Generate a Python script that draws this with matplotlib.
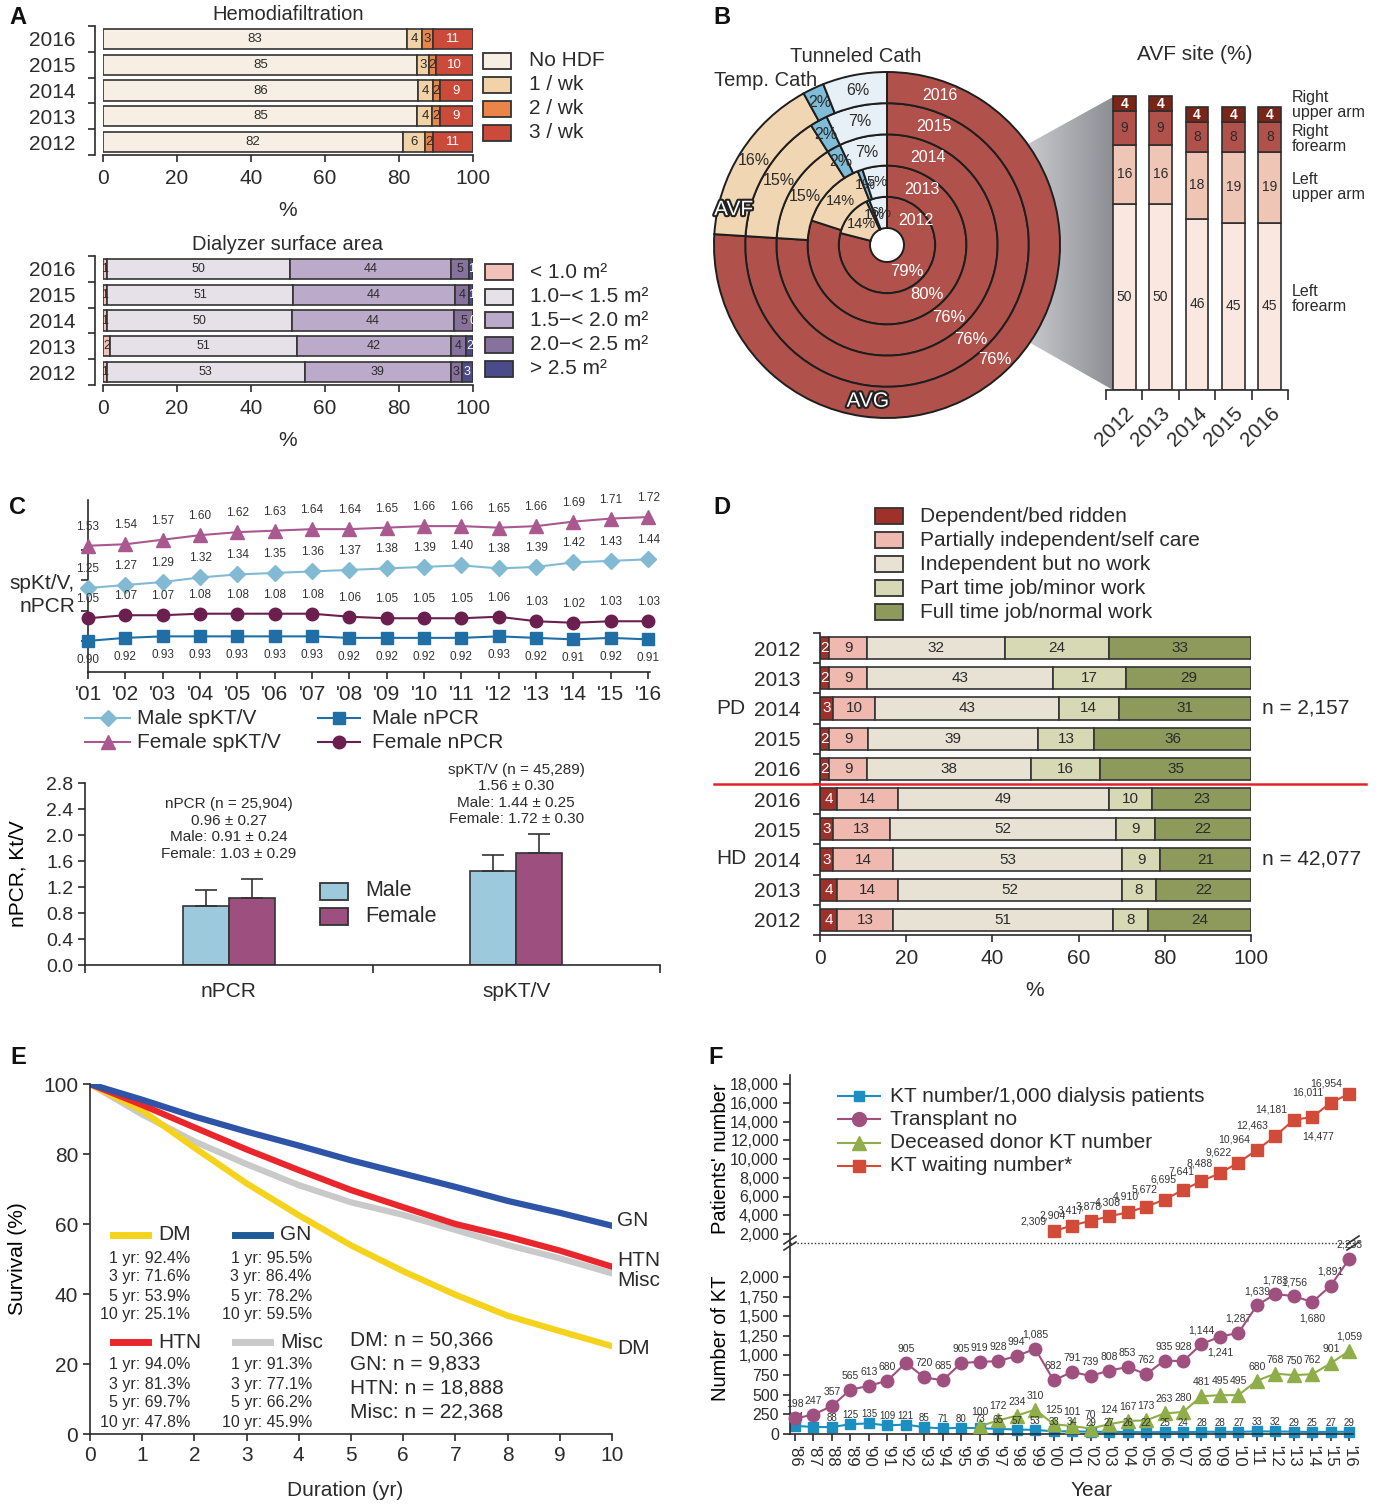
import numpy as np
import matplotlib
matplotlib.use('Agg')
import matplotlib.pyplot as plt
from matplotlib.patches import Rectangle, Polygon
from matplotlib.lines import Line2D
from matplotlib.colors import LinearSegmentedColormap
import matplotlib.patheffects as pe
import matplotlib.transforms as mtransforms

plt.rcParams['font.family'] = ['Liberation Sans', 'DejaVu Sans']
TXT = '#2b2b2b'
plt.rcParams.update({
    'text.color': TXT, 'axes.edgecolor': TXT, 'xtick.color': TXT, 'ytick.color': TXT,
    'axes.linewidth': 1.2, 'xtick.major.width': 1.2, 'ytick.major.width': 1.2,
    'xtick.minor.width': 1.2, 'ytick.minor.width': 1.2,
})

# ---------------- data ----------------
# A: hemodiafiltration frequency (%)
hdf_years = ['2016', '2015', '2014', '2013', '2012']
hdf_names = ['No HDF', '1 / wk', '2 / wk', '3 / wk']
hdf_none = [83, 85, 86, 85, 82]
hdf_once = [4, 3, 4, 4, 6]
hdf_twice = [3, 2, 2, 2, 2]
hdf_thrice = [11, 10, 9, 9, 11]

# A: dialyzer surface area (%)
dlz_years = ['2016', '2015', '2014', '2013', '2012']
dlz_names = ['< 1.0 m²', '1.0−< 1.5 m²', '1.5−< 2.0 m²', '2.0−< 2.5 m²', '> 2.5 m²']
dlz_lt10 = [1, 1, 1, 2, 1]
dlz_10_15 = [50, 51, 50, 51, 53]
dlz_15_20 = [44, 44, 44, 42, 39]
dlz_20_25 = [5, 4, 5, 4, 3]
dlz_gt25 = [1, 1, 0, 2, 3]

# B: vascular access type (%) by year, inner ring = 2012
access_years = ['2012', '2013', '2014', '2015', '2016']
avg_pct = [79, 80, 76, 76, 76]
avf_pct = [14, 14, 15, 15, 16]
temp_pct = [1, 1, 2, 2, 2]
tunnel_pct = [6, 5, 7, 7, 6]

# B: AVF site (%)
site_years = ['2012', '2013', '2014', '2015', '2016']
site_names = ['Left\nforearm', 'Left\nupper arm', 'Right\nforearm', 'Right\nupper arm']
site_lf = [50, 50, 46, 45, 45]
site_lu = [16, 16, 18, 19, 19]
site_rf = [9, 9, 8, 8, 8]
site_ru = [4, 4, 4, 4, 4]

# C: dialysis adequacy trends
c_years = list(range(2001, 2017))
c_ticklabels = ["'%02d" % (y % 100) for y in c_years]
ktv_female = [1.53, 1.54, 1.57, 1.60, 1.62, 1.63, 1.64, 1.64, 1.65, 1.66, 1.66, 1.65, 1.66, 1.69, 1.71, 1.72]
ktv_male = [1.25, 1.27, 1.29, 1.32, 1.34, 1.35, 1.36, 1.37, 1.38, 1.39, 1.40, 1.38, 1.39, 1.42, 1.43, 1.44]
npcr_female = [1.05, 1.07, 1.07, 1.08, 1.08, 1.08, 1.08, 1.06, 1.05, 1.05, 1.05, 1.06, 1.03, 1.02, 1.03, 1.03]
npcr_male = [0.90, 0.92, 0.93, 0.93, 0.93, 0.93, 0.93, 0.92, 0.92, 0.92, 0.92, 0.93, 0.92, 0.91, 0.92, 0.91]

bar_groups = ['nPCR', 'spKT/V']
bar_male = [0.91, 1.44]
bar_male_sd = [0.24, 0.25]
bar_female = [1.03, 1.72]
bar_female_sd = [0.29, 0.30]
bar_n = [25904, 45289]
bar_all = [0.96, 1.56]
bar_all_sd = [0.27, 0.30]

# D: functional status (%)
d_names = ['Dependent/bed ridden', 'Partially independent/self care', 'Independent but no work',
           'Part time job/minor work', 'Full time job/normal work']
d_rows = ['2012', '2013', '2014', '2015', '2016', '2016', '2015', '2014', '2013', '2012']
d_dep = [2, 2, 3, 2, 2, 4, 3, 3, 4, 4]
d_partial = [9, 9, 10, 9, 9, 14, 13, 14, 14, 13]
d_indep = [32, 43, 43, 39, 38, 49, 52, 53, 52, 51]
d_parttime = [24, 17, 14, 13, 16, 10, 9, 9, 8, 8]
d_fulltime = [33, 29, 31, 36, 35, 23, 22, 21, 22, 24]

# E: patient survival (%) by primary disease
e_years = [0, 1, 2, 3, 4, 5, 6, 7, 8, 9, 10]
surv_dm = [100, 92.4, 81.8, 71.6, 62.5, 53.9, 46.5, 39.8, 33.8, 29.4, 25.1]
surv_gn = [100, 95.5, 90.7, 86.4, 82.4, 78.2, 74.4, 70.6, 66.6, 63.2, 59.5]
surv_htn = [100, 94.0, 87.6, 81.3, 75.4, 69.7, 64.8, 60.0, 56.4, 52.4, 47.8]
surv_misc = [100, 91.3, 83.6, 77.1, 71.1, 66.2, 62.6, 58.3, 54.0, 50.2, 45.9]
e_counts = [('DM', 50366), ('GN', 9833), ('HTN', 18888), ('Misc', 22368)]

# F: kidney transplantation
f_years = list(range(1986, 2017))
kt_per_1000 = [104, 89, 88, 125, 135, 109, 121, 85, 71, 80, 73, 65, 57, 53, 33, 34, 29, 27, 26, 22,
               25, 24, 28, 28, 27, 33, 32, 29, 25, 27, 29]
transplant_no = [198, 247, 357, 565, 613, 680, 905, 720, 685, 905, 919, 928, 994, 1085, 682, 791, 739,
                 808, 853, 762, 935, 928, 1144, 1241, 1287, 1639, 1783, 1756, 1680, 1891, 2233]
deceased_years = list(range(1996, 2017))
deceased_no = [100, 172, 234, 310, 125, 101, 70, 124, 167, 173, 263, 280, 481, 495, 495, 680, 768,
               750, 762, 901, 1059]
waiting_years = list(range(2000, 2017))
waiting_no = [2309, 2904, 3417, 3878, 4308, 4910, 5672, 6695, 7641, 8488, 9622, 10964, 12463,
              14181, 14477, 16011, 16954]

# ---------------- figure helpers (pixel layout) ----------------
W, H = 1381, 1504
fig = plt.figure(figsize=(W / 100, H / 100), dpi=100)


def fx(x):
    return x / W


def fy(y):
    return 1 - y / H


def add_ax(x0, y0, x1, y1):
    return fig.add_axes([fx(x0), fy(y1), (x1 - x0) / W, (y1 - y0) / H])


def ftext(x, y, s, **kw):
    kw.setdefault('ha', 'center')
    kw.setdefault('va', 'center')
    return fig.text(fx(x), fy(y), s, **kw)


def fbox(x, y, w, h, color):
    fig.add_artist(Rectangle((fx(x), fy(y + h / 2)), w / W, h / H, transform=fig.transFigure,
                             facecolor=color, edgecolor='#333333', linewidth=1.3))


def fline(x0, x1, y, color, lw=1.5, marker=None, ms=8, ls='-'):
    fig.add_artist(Line2D([fx(x0), fx(x1)], [fy(y), fy(y)], color=color, lw=lw, ls=ls,
                          transform=fig.transFigure))
    if marker:
        fig.add_artist(Line2D([fx((x0 + x1) / 2)], [fy(y)], marker=marker, ms=ms, color=color,
                              ls='none', transform=fig.transFigure))


def panel_letter(x, y, s):
    ftext(x, y, s, fontsize=17, fontweight='bold', color='#111111')


def ylabel_at(ax, x_px, text, fs=15):
    """Place the vertical y label centred at a given figure x pixel."""
    ax.set_ylabel(text, fontsize=fs)
    pos = ax.get_position()
    # the label anchor is its (rotated) bottom edge, about half a line right of its centre
    ax.yaxis.set_label_coords((fx(x_px + 9) - pos.x0) / pos.width, 0.5)


def hbar_stack(ax, segs, colors, tcolors, height=0.78, fs=9.5):
    segs = np.array(segs, float)
    widths = segs / segs.sum(axis=0) * 100
    y = np.arange(segs.shape[1])
    left = np.zeros(segs.shape[1])
    for k in range(segs.shape[0]):
        ax.barh(y, widths[k], left=left, height=height, color=colors[k],
                edgecolor='#333333', linewidth=1.2)
        for i in range(len(y)):
            ax.text(left[i] + widths[k][i] / 2, y[i], f'{int(segs[k][i])}', ha='center',
                    va='center', fontsize=fs, color=tcolors[k])
        left = left + widths[k]


def style_hbar_axis(ax, labels, fs=15, offset=6):
    n = len(labels)
    ax.set_xlim(0, 100)
    ax.set_ylim(n - 0.5, -0.5)
    ax.set_yticks(range(n))
    ax.set_yticklabels(labels)
    ax.set_yticks(np.arange(-0.5, n, 1), minor=True)
    ax.tick_params(axis='y', which='major', length=0, pad=offset + 8, labelsize=fs)
    ax.tick_params(axis='y', which='minor', length=5)
    ax.set_xticks(range(0, 101, 20))
    ax.tick_params(axis='x', labelsize=fs, length=5, pad=5)
    ax.spines['left'].set_position(('outward', offset))
    for s in ('top', 'right'):
        ax.spines[s].set_visible(False)
    ax.patch.set_visible(False)


# ---------------- panel A ----------------
panel_letter(18, 18, 'A')
hdf_colors = ['#f8efe4', '#f2d3a8', '#e98548', '#cc4a3a']
ax = add_ax(103, 26, 473, 155)
hbar_stack(ax, [hdf_none, hdf_once, hdf_twice, hdf_thrice], hdf_colors, [TXT, TXT, TXT, 'white'])
style_hbar_axis(ax, hdf_years)
ftext(288, 15, 'Hemodiafiltration', fontsize=14.5)
ftext(288, 211, '%', fontsize=15)
for i, (name, col) in enumerate(zip(hdf_names, hdf_colors)):
    fbox(483, 61 + 24 * i, 28, 16, col)
    ftext(529, 61 + 24 * i, name, ha='left', fontsize=15)

dlz_colors = ['#f1c0b8', '#e6e1e9', '#bcaacb', '#86729d', '#4b4a8a']
ax = add_ax(103, 256, 473, 385)
hbar_stack(ax, [dlz_lt10, dlz_10_15, dlz_15_20, dlz_20_25, dlz_gt25], dlz_colors,
           [TXT, TXT, TXT, TXT, 'white'], fs=9)
style_hbar_axis(ax, dlz_years)
ftext(288, 244, 'Dialyzer surface area', fontsize=14.5)
ftext(288, 441, '%', fontsize=15)
for i, (name, col) in enumerate(zip(dlz_names, dlz_colors)):
    yy = [272, 297, 320, 345, 369][i]
    fbox(485, yy, 28, 16, col)
    ftext(530, yy, name, ha='left', fontsize=15)

# ---------------- panel B ----------------
panel_letter(722, 18, 'B')
# funnel linking the rings to the site bars
axg = add_ax(990, 85, 1115, 400)
axg.set_xlim(990, 1115)
axg.set_ylim(400, 85)
axg.axis('off')
funnel_cmap = LinearSegmentedColormap.from_list('funnel', ['#e2e3e6', '#8a8c91'])
im = axg.imshow(np.linspace(0, 1, 256).reshape(1, -1), extent=(990, 1115, 400, 85),
                cmap=funnel_cmap, aspect='auto')
funnel = Polygon([(990, 165), (1113, 97), (1113, 390), (990, 320)], closed=True,
                 facecolor='none', edgecolor='none', transform=axg.transData)
axg.add_patch(funnel)
im.set_clip_path(funnel)

cx, cy = 887, 245
axp = add_ax(cx - 176, cy - 176, cx + 176, cy + 176)
axp.patch.set_visible(False)
hole, ring_w = 17, 31.2
ring_colors = ['#b0524b', '#f1d6b3', '#7fbcd7', '#e6f0f6']
for i in range(5):
    vals = [avg_pct[i], avf_pct[i], temp_pct[i], tunnel_pct[i]]
    r_out = hole + ring_w * (i + 1)
    r_mid = r_out - ring_w / 2
    axp.pie(vals, radius=r_out, startangle=90, counterclock=False, colors=ring_colors,
            wedgeprops=dict(width=ring_w, edgecolor='#1e1e1e', linewidth=1.4))
    cum = np.cumsum([0] + vals)
    for k in (1, 2, 3):
        ang = np.deg2rad(90 - 3.6 * (cum[k] + vals[k] / 2))
        axp.text(r_mid * np.cos(ang), r_mid * np.sin(ang), f'{vals[k]}%', ha='center',
                 va='center', fontsize=11.5 if i > 1 else 10.5, color=TXT)
    ang = np.deg2rad(-53 + 1.6 * i)
    axp.text(r_mid * np.cos(ang), r_mid * np.sin(ang), f'{avg_pct[i]}%', ha='center',
             va='center', fontsize=12, color='white')
    axp.text(29 + 6 * i, r_mid - 8, access_years[i], ha='center', va='center', fontsize=11.5,
             color='white')
outline = [pe.withStroke(linewidth=3, foreground='#222222')]
r_outer_mid = hole + ring_w * 4.5
axp.text(r_outer_mid * np.cos(np.deg2rad(167)), r_outer_mid * np.sin(np.deg2rad(167)), 'AVF',
         ha='center', va='center', fontsize=15, color='white', path_effects=outline)
axp.text(r_outer_mid * np.cos(np.deg2rad(-97)), r_outer_mid * np.sin(np.deg2rad(-97)), 'AVG',
         ha='center', va='center', fontsize=15, color='white', path_effects=outline)
axp.set_xlim(-176, 176)
axp.set_ylim(-176, 176)
ftext(856, 56, 'Tunneled Cath', fontsize=14.5)
ftext(766, 80, 'Temp. Cath', fontsize=14.5)

# AVF site bars
axs = add_ax(1106, 85, 1288, 390)
xs = np.arange(len(site_years))
bottom = np.zeros(len(site_years))
site_colors = ['#f9e7e0', '#efc5b6', '#b0524b', '#7b2418']
site_tc = [TXT, TXT, TXT, 'white']
for vals, col, tc in zip([site_lf, site_lu, site_rf, site_ru], site_colors, site_tc):
    vals = np.array(vals, float)
    axs.bar(xs, vals, bottom=bottom, width=0.63, color=col, edgecolor='#2e2e2e', linewidth=1.2)
    for x, v, b in zip(xs, vals, bottom):
        axs.text(x, b + v / 2, f'{int(v)}', ha='center', va='center', fontsize=10, color=tc,
                 fontweight='bold' if tc == 'white' else 'normal')
    bottom = bottom + vals
axs.set_xlim(-0.5, 4.5)
axs.set_ylim(0, 82)
for s in ('left', 'top', 'right'):
    axs.spines[s].set_visible(False)
axs.set_yticks([])
axs.set_xticks(xs)
axs.set_xticklabels(site_years, rotation=45, ha='right', va='top', rotation_mode='anchor')
axs.tick_params(axis='x', which='major', length=0, pad=10, labelsize=15)
axs.set_xticks(np.arange(-0.5, 5, 1), minor=True)
axs.tick_params(axis='x', which='minor', length=7)
axs.patch.set_visible(False)
lab_tr = mtransforms.blended_transform_factory(fig.transFigure, axs.transData)
for name, yv in zip(site_names, [24.5, 54.5, 67.5, 76.5]):
    axs.text(fx(1292), yv, name, transform=lab_tr, ha='left', va='center', fontsize=11.5,
             linespacing=1.0)
ftext(1195, 54, 'AVF site (%)', fontsize=15)

# ---------------- panel C (top) ----------------
panel_letter(18, 508, 'C')
axc = add_ax(88, 500, 650, 672)
c_styles = [
    (ktv_female, '#a9598f', '^', 10, 1),
    (ktv_male, '#82bad4', 'D', 8.5, 1),
    (npcr_female, '#6a1f4f', 'o', 9, 1),
    (npcr_male, '#1f6fa6', 's', 8, -1),
]
for vals, col, mk, ms, side in c_styles:
    axc.plot(c_years, vals, color=col, marker=mk, ms=ms, lw=1.5, clip_on=False, zorder=3)
    for x, v in zip(c_years, vals):
        axc.annotate(f'{v:.2f}', (x, v), xytext=(0, 13 * side), textcoords='offset pixels',
                     ha='center', va='bottom' if side > 0 else 'top', fontsize=8.5, color='#333333')
axc.set_xlim(2001, 2016.05)
axc.set_ylim(0.694, 1.833)
axc.set_xticks(c_years)
axc.set_xticklabels(c_ticklabels)
axc.tick_params(axis='x', length=5, pad=4, labelsize=15)
axc.set_yticks([0.9, 1.1, 1.3, 1.5])
axc.set_yticklabels([])
axc.tick_params(axis='y', length=5)
for s in ('top', 'right'):
    axc.spines[s].set_visible(False)
axc.patch.set_visible(False)
ftext(75, 595, 'spKt/V,\nnPCR', ha='right', fontsize=15, linespacing=1.25)
legend_c = [
    (85, 130, 718, '#82bad4', 'D', 8.5, 'Male spKT/V', 137),
    (85, 130, 742, '#a9598f', '^', 10, 'Female spKT/V', 137),
    (318, 360, 718, '#1f6fa6', 's', 8, 'Male nPCR', 372),
    (318, 360, 742, '#6a1f4f', 'o', 9, 'Female nPCR', 372),
]
for x0, x1, yy, col, mk, ms, name, tx in legend_c:
    fline(x0, x1, yy, col, lw=1.5, marker=mk, ms=ms)
    ftext(tx, yy, name, ha='left', fontsize=15)

# ---------------- panel C (bottom) ----------------
axb = add_ax(85, 783, 660, 965)
gx = np.arange(len(bar_groups))
bw = 0.16
axb.bar(gx - bw / 2, bar_male, width=bw, color='#9ccadc', edgecolor='#333333', linewidth=1.2)
axb.bar(gx + bw / 2, bar_female, width=bw, color='#9d5080', edgecolor='#333333', linewidth=1.2)
axb.errorbar(gx - bw / 2, bar_male, yerr=[np.zeros(2), bar_male_sd], fmt='none', ecolor='#333333',
             elinewidth=1.2, capsize=8, capthick=1.2)
axb.errorbar(gx + bw / 2, bar_female, yerr=[np.zeros(2), bar_female_sd], fmt='none',
             ecolor='#333333', elinewidth=1.2, capsize=8, capthick=1.2)
for i, top in enumerate([2.58, 3.11]):
    txt = (f'{bar_groups[i]} (n = {bar_n[i]:,})\n{bar_all[i]:.2f} ± {bar_all_sd[i]:.2f}\n'
           f'Male: {bar_male[i]:.2f} ± {bar_male_sd[i]:.2f}\n'
           f'Female: {bar_female[i]:.2f} ± {bar_female_sd[i]:.2f}')
    axb.text(i, top, txt, ha='center', va='top', fontsize=11, linespacing=1.22)
axb.set_xlim(-0.5, 1.5)
axb.set_ylim(0, 2.8)
axb.set_yticks(np.arange(0, 2.81, 0.4))
axb.set_yticklabels([f'{v:.1f}' for v in np.arange(0, 2.81, 0.4)])
axb.set_xticks(gx)
axb.set_xticklabels(bar_groups)
axb.tick_params(axis='x', which='major', length=0, pad=12, labelsize=15)
axb.set_xticks([-0.5, 0.5, 1.5], minor=True)
axb.tick_params(axis='x', which='minor', length=6)
axb.tick_params(axis='y', length=5, labelsize=14)
for s in ('top', 'right'):
    axb.spines[s].set_visible(False)
ylabel_at(axb, 18, 'nPCR, Kt/V')
fbox(320, 891, 28, 17, '#9ccadc')
ftext(365, 891, 'Male', ha='left', fontsize=15.5)
fbox(320, 916, 28, 17, '#9d5080')
ftext(365, 916, 'Female', ha='left', fontsize=15.5)

# ---------------- panel D ----------------
panel_letter(722, 508, 'D')
d_colors = ['#a0302a', '#f0b9af', '#e8e2d4', '#d7d9b5', '#8e9a5b']
for i, (name, col) in enumerate(zip(d_names, d_colors)):
    fbox(875, 516 + 24 * i, 28, 16, col)
    ftext(920, 516 + 24 * i, name, ha='left', fontsize=15)
axd = add_ax(820, 633, 1251, 935)
hbar_stack(axd, [d_dep, d_partial, d_indep, d_parttime, d_fulltime], d_colors,
           ['white', TXT, TXT, TXT, TXT], height=0.74, fs=11)
style_hbar_axis(axd, d_rows, fs=15, offset=0)
axd.tick_params(axis='y', which='major', pad=14)
ftext(1035, 991, '%', fontsize=15)
sep_tr = mtransforms.blended_transform_factory(fig.transFigure, axd.transData)
fig.add_artist(Line2D([fx(714), fx(1366)], [4.5, 4.5], transform=sep_tr, color='#e3222b', lw=1.8))
ftext(716, 708, 'PD', ha='left', fontsize=15)
ftext(716, 859, 'HD', ha='left', fontsize=15)
ftext(1262, 708, 'n = 2,157', ha='left', fontsize=15)
ftext(1262, 859, 'n = 42,077', ha='left', fontsize=15)

# ---------------- panel E ----------------
panel_letter(18, 1057, 'E')
axe = add_ax(90, 1084, 612, 1434)
e_series = [('Misc', surv_misc, '#c9c9c9'), ('DM', surv_dm, '#f5d31c'),
            ('HTN', surv_htn, '#e8262b'), ('GN', surv_gn, '#2d54a6')]
for name, vals, col in e_series:
    axe.plot(e_years, vals, color=col, lw=4.5, solid_joinstyle='round')
axe.set_xlim(0, 10)
axe.set_ylim(0, 100)
axe.set_xticks(range(11))
axe.set_yticks(range(0, 101, 20))
axe.tick_params(labelsize=15, length=5)
for s in ('top', 'right'):
    axe.spines[s].set_visible(False)
axe.patch.set_visible(False)
ylabel_at(axe, 18, 'Survival (%)')
ftext(345, 1490, 'Duration (yr)', fontsize=15)
for name, yy in [('GN', 1221), ('HTN', 1261), ('Misc', 1281), ('DM', 1348)]:
    ftext(617, yy, name, ha='left', fontsize=15)
e_lookup = {'DM': surv_dm, 'GN': surv_gn, 'HTN': surv_htn, 'Misc': surv_misc}
e_cols = {'DM': '#f5d31c', 'GN': '#1d5b98', 'HTN': '#e8262b', 'Misc': '#c9c9c9'}
for name, lx, ly, sx in [('DM', 113, 1235, 190), ('GN', 235, 1235, 312),
                         ('HTN', 113, 1342, 190), ('Misc', 235, 1342, 312)]:
    fline(lx, lx + 35, ly, e_cols[name], lw=5)
    ftext(lx + 45, ly, name, ha='left', fontsize=15)
    for j, yr in enumerate([1, 3, 5, 10]):
        ftext(sx, ly + 23 + 19 * j, f'{yr} yr: {e_lookup[name][yr]:.1f}%', ha='right',
              fontsize=11.5)
for j, (name, n) in enumerate(e_counts):
    ftext(350, 1340 + 24 * j, f'{name}: n = {n:,}', ha='left', fontsize=15)

# ---------------- panel F ----------------
panel_letter(716, 1057, 'F')
col_ratio, col_tx, col_dd, col_wait = '#1b8fc2', '#a0507f', '#8fad48', '#d24b39'
axt = add_ax(790, 1075, 1353, 1243)
axl = add_ax(790, 1243, 1353, 1434)
for a in (axt, axl):
    a.set_xlim(1985.73, 2016.2)
    a.spines['top'].set_visible(False)
    a.spines['right'].set_visible(False)
    a.patch.set_visible(False)
axt.spines['bottom'].set_visible(False)
axt.set_xticks([])
axt.plot(waiting_years, waiting_no, color=col_wait, marker='s', ms=8, lw=1.5, clip_on=False)
for x, v in zip(waiting_years, waiting_no):
    if v == 14477:
        axt.annotate(f'{v:,}', (x, v), xytext=(6, -14), textcoords='offset pixels', ha='center',
                     va='top', fontsize=7.5, color='#333333')
    else:
        axt.annotate(f'{v:,}', (x, v), xytext=(-7, 5), textcoords='offset pixels', ha='right',
                     va='bottom', fontsize=7.5, color='#333333')
axt.set_ylim(1040, 18960)
axt.set_yticks(range(2000, 18001, 2000))
axt.set_yticklabels([f'{v:,}' for v in range(2000, 18001, 2000)])
axt.tick_params(axis='y', length=5, pad=3, labelsize=11.5)
ylabel_at(axt, 721, "Patients' number", fs=14.5)

axl.plot(f_years, kt_per_1000, color=col_ratio, marker='s', ms=7, lw=1.5, clip_on=False, zorder=2)
axl.plot(deceased_years, deceased_no, color=col_dd, marker='^', ms=9.5, lw=1.5, clip_on=False,
         zorder=3)
axl.plot(f_years, transplant_no, color=col_tx, marker='o', ms=9, lw=1.5, clip_on=False, zorder=4)
for x, v in zip(f_years, kt_per_1000):
    axl.annotate(f'{v}', (x, v), xytext=(0, 4), textcoords='offset pixels', ha='center',
                 va='bottom', fontsize=7, color='#333333')
for x, v in zip(deceased_years, deceased_no):
    axl.annotate(f'{v:,}', (x, v), xytext=(0, 9), textcoords='offset pixels', ha='center',
                 va='bottom', fontsize=7.5, color='#333333')
for x, v in zip(f_years, transplant_no):
    below = v in (1241, 1680)
    axl.annotate(f'{v:,}', (x, v), xytext=(0, -11 if below else 9), textcoords='offset pixels',
                 ha='center', va='top' if below else 'bottom', fontsize=7.5, color='#333333')
axl.set_ylim(0, 2433)
axl.set_yticks(range(0, 2001, 250))
axl.set_yticklabels([f'{v:,}' for v in range(0, 2001, 250)])
axl.tick_params(axis='y', length=5, pad=3, labelsize=11.5)
axl.set_xticks(f_years)
axl.set_xticklabels(["'%02d" % (y % 100) for y in f_years], rotation=270)
axl.tick_params(axis='x', length=5, pad=3, labelsize=12)
ylabel_at(axl, 721, 'Number of KT', fs=14.5)
ftext(1092, 1491, 'Year', fontsize=15)
# axis break
fline(790, 1353, 1243, '#333333', lw=1, ls=(0, (1, 1.5)))
for bx in (790, 1353):
    for dy in (-3, 3):
        fig.add_artist(Line2D([fx(bx - 6), fx(bx + 6)], [fy(1243 + dy + 4), fy(1243 + dy - 4)],
                              color='#333333', lw=1.2, transform=fig.transFigure))
f_legend = [(col_ratio, 's', 7, 'KT number/1,000 dialysis patients'),
            (col_tx, 'o', 10, 'Transplant no'),
            (col_dd, '^', 10, 'Deceased donor KT number'),
            (col_wait, 's', 9, 'KT waiting number*')]
for i, (col, mk, ms, name) in enumerate(f_legend):
    yy = 1096 + 23.3 * i
    fline(838, 880, yy, col, lw=1.5, marker=mk, ms=ms)
    ftext(890, yy, name, ha='left', fontsize=15)

fig.savefig('out.png', dpi=100)
